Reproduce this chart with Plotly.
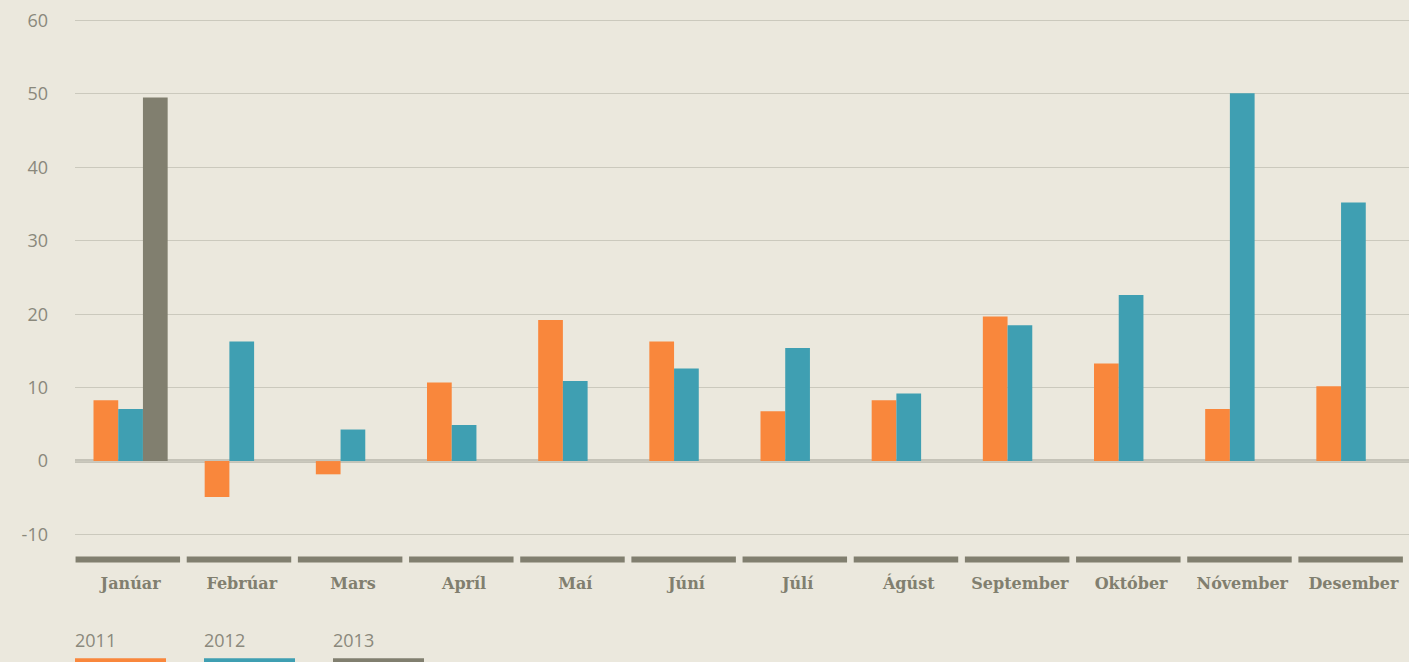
import plotly.graph_objects as go

months = ["Janúar", "Febrúar", "Mars", "Apríl", "Maí", "Júní", "Júlí",
          "Ágúst", "September", "Október", "Nóvember", "Desember"]
v2011 = [8.3, -4.9, -1.8, 10.7, 19.2, 16.3, 6.8, 8.3, 19.7, 13.3, 7.1, 10.2]
v2012 = [7.1, 16.3, 4.3, 4.9, 10.9, 12.6, 15.4, 9.2, 18.5, 22.6, 50.1, 35.2]
v2013 = [49.5, None, None, None, None, None, None, None, None, None, None, None]
years = ["2011", "2012", "2013"]
colors = ["#f9873c", "#3f9fb2", "#817f6f"]
yticks = [-10, 0, 10, 20, 30, 40, 50, 60]
yticktext = ["-10", "0", "10", "20", "30", "40", "50", "60"]

W, H = 1409, 662
ppu = 515 / 70.0
pad = 0.2
ML, MR = 75, 0
MT = 20 - pad * ppu
plot_h = (70 + 2 * pad) * ppu
MB = H - MT - plot_h
plot_w = W - ML - MR

def py(px):  # pixel y -> paper y
    return (H - MB - px) / plot_h

def pxx(px):  # pixel x -> paper x
    return (px - ML) / plot_w

bg = "#ebe8dd"
fig = go.Figure()
for name, vals, c in zip(years, [v2011, v2012, v2013], colors):
    fig.add_trace(go.Bar(x=months, y=vals, name=name, marker_color=c,
                         marker_line_width=0, hoverinfo="skip"))

shapes = []
for i, m in enumerate(months):
    shapes.append(dict(type="rect", xref="x", yref="paper",
                       x0=i - 0.495, x1=i + 0.445,
                       y0=py(563), y1=py(557),
                       fillcolor="#817f6f", line_width=0, layer="above"))
shapes.append(dict(type="line", xref="paper", yref="y", x0=0, x1=1, y0=0, y1=0,
                   line=dict(color="#c5c3b8", width=4), layer="below"))

annotations = []
for k, (name, c) in enumerate(zip(years, colors)):
    x0 = 75 + k * 129
    annotations.append(dict(text=name, xref="paper", yref="paper",
                            x=pxx(x0 - 2), y=py(641), xanchor="left", yanchor="middle",
                            showarrow=False,
                            font=dict(family="Open Sans", size=18, color="#8a887c")))
    shapes.append(dict(type="rect", xref="paper", yref="paper",
                       x0=pxx(x0), x1=pxx(x0 + 91), y0=py(663), y1=py(659),
                       fillcolor=c, line_width=0))

fig.update_layout(
    width=W, height=H,
    margin=dict(l=ML, r=MR, t=MT, b=MB, pad=0),
    paper_bgcolor=bg, plot_bgcolor=bg,
    barmode="group", bargap=0.333, bargroupgap=0,
    showlegend=False,
    shapes=shapes, annotations=annotations,
    xaxis=dict(showgrid=False, showline=False, zeroline=False, ticks="",
               tickfont=dict(family="DejaVu Serif", size=16, color="#817f6f",
                             weight="bold"),
               ticklabelstandoff=36, range=[-0.5, 11.5]),
    yaxis=dict(range=[-10 - pad, 60 + pad], tickvals=yticks, ticktext=yticktext,
               showgrid=True, gridcolor="#cbc9bd", gridwidth=1.2,
               zeroline=False, showline=False,
               tickfont=dict(family="Open Sans", size=18, color="#8a887c"),
               ticklabelstandoff=26),
)
fig.write_html("out.html", config={"displayModeBar": False},
               post_script="document.body.style.margin='0';document.body.style.background='#ebe8dd';")
